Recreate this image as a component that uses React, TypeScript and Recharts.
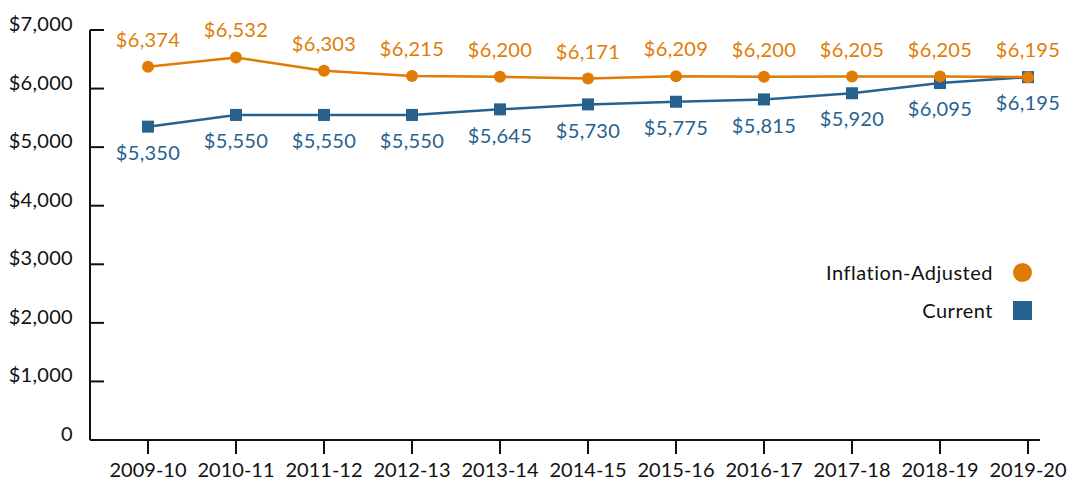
import { CartesianGrid, Legend, LabelList, Line, LineChart, XAxis, YAxis } from "recharts"

const years = ["2009-10", "2010-11", "2011-12", "2012-13", "2013-14", "2014-15", "2015-16", "2016-17", "2017-18", "2018-19", "2019-20"]
const inflationAdjusted = [6374, 6532, 6303, 6215, 6200, 6171, 6209, 6200, 6205, 6205, 6195]
const current = [5350, 5550, 5550, 5550, 5645, 5730, 5775, 5815, 5920, 6095, 6195]
const yTicks = [0, 1000, 2000, 3000, 4000, 5000, 6000, 7000]

const ORANGE = "#e07c05"
const BLUE = "#27628f"
const FONT = "Lato, 'Open Sans', sans-serif"

const data = years.map((year, i) => ({
    year,
    adjusted: inflationAdjusted[i],
    current: current[i],
}))

const money = (v: number) => (v === 0 ? "0" : `$${v.toLocaleString("en-US")}`)

function YTick(props: any) {
    const { x, y, payload } = props
    return (
        <g>
            <line x1={x} y1={y} x2={x + 14} y2={y} stroke="#111" strokeWidth={2} />
            <text x={x - 17} y={y - 6} dy="0.35em" textAnchor="end" fontSize={20} fill="#111" fontFamily={FONT} letterSpacing={0.3}>
                {money(payload.value)}
            </text>
        </g>
    )
}

function LegendBox() {
    const rows = [
        { label: "Inflation-Adjusted", shape: "circle", color: ORANGE },
        { label: "Current", shape: "square", color: BLUE },
    ]
    return (
        <div style={{ width: 240, fontFamily: FONT, fontSize: 20, color: "#111", letterSpacing: 0.5 }}>
            {rows.map((r) => (
                <div key={r.label} style={{ display: "flex", justifyContent: "flex-end", alignItems: "center", height: 38 }}>
                    <span style={{ marginRight: 20 }}>{r.label}</span>
                    <svg width={19} height={19}>
                        {r.shape === "circle" ? (
                            <circle cx={9.5} cy={9.5} r={9.5} fill={r.color} />
                        ) : (
                            <rect x={0} y={0} width={19} height={19} fill={r.color} />
                        )}
                    </svg>
                </div>
            ))}
        </div>
    )
}

function SquareDot(props: any) {
    const { cx, cy } = props
    return <rect x={cx - 6} y={cy - 6} width={12} height={12} fill={BLUE} />
}

export default function App() {
    return (
        <div style={{ position: "absolute", left: 0, top: 0, width: 1068, height: 483, fontFamily: FONT }}>
            <LineChart
                width={1068}
                height={483}
                data={data}
                margin={{ top: 30, right: 28, left: 0, bottom: 0 }}
            >
                <CartesianGrid horizontal={false} vertical={false} />
                <XAxis
                    dataKey="year"
                    padding={{ left: 58, right: 12 }}
                    height={43}
                    stroke="#111"
                    strokeWidth={2}
                    tickSize={14}
                    tickMargin={9}
                    tick={{ fontSize: 20, fill: "#111", fontFamily: FONT }}
                    interval={0}
                />
                <YAxis
                    width={90}
                    domain={[0, 7000]}
                    ticks={yTicks}
                    interval={0}
                    stroke="#111"
                    strokeWidth={2}
                    tickLine={false}
                    tickSize={0}
                    tickMargin={0}
                    tick={<YTick />}
                />
                <Legend
                    layout="vertical"
                    align="center"
                    verticalAlign="middle"
                    wrapperStyle={{ left: 792, top: 253, width: 240 }}
                    content={() => <LegendBox />}
                />
                <Line
                    dataKey="current"
                    stroke={BLUE}
                    strokeWidth={2.5}
                    dot={<SquareDot />}
                    isAnimationActive={false}
                >
                    <LabelList dataKey="current" position="bottom" offset={19} formatter={(v: any) => money(Number(v))} fill={BLUE} fontSize={20} fontFamily={FONT} letterSpacing={0.3} />
                </Line>
                <Line
                    dataKey="adjusted"
                    stroke={ORANGE}
                    strokeWidth={2.5}
                    dot={{ r: 6, fill: ORANGE, stroke: ORANGE, strokeWidth: 0 }}
                    isAnimationActive={false}
                >
                    <LabelList dataKey="adjusted" position="top" offset={20} formatter={(v: any) => money(Number(v))} fill={ORANGE} fontSize={20} fontFamily={FONT} letterSpacing={0.3} />
                </Line>
            </LineChart>
        </div>
    )
}
